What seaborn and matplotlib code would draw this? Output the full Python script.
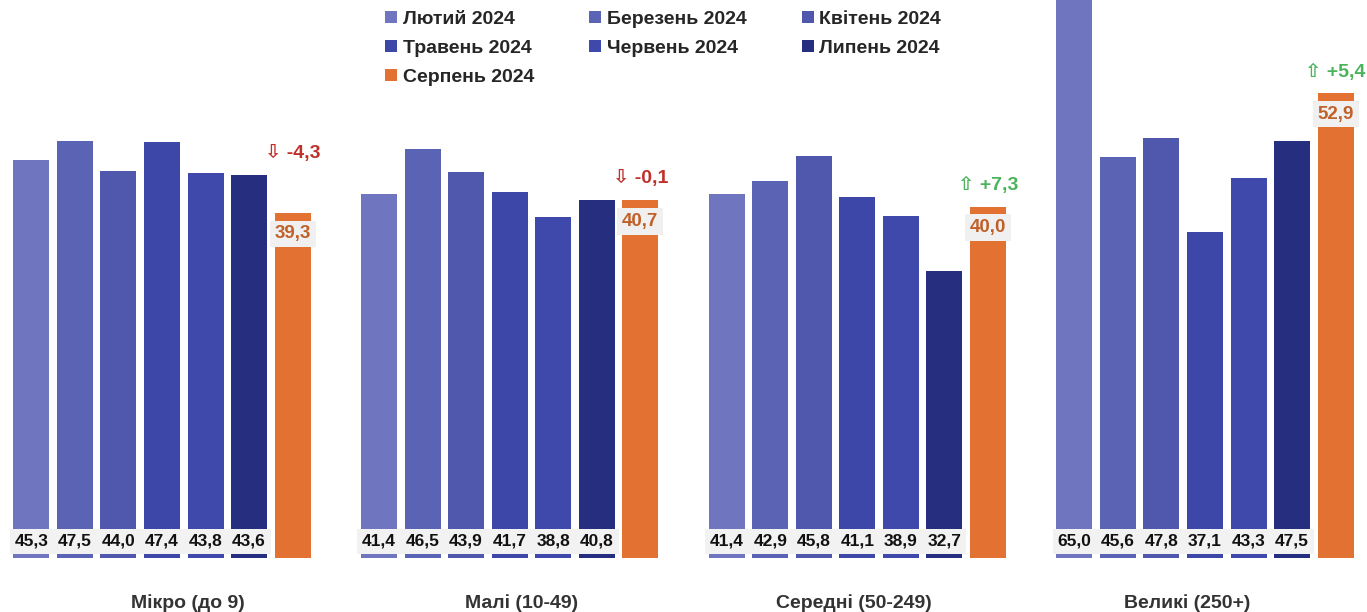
import pandas as pd
import matplotlib.pyplot as plt
import seaborn as sns

categories = ['Мікро (до 9)', 'Малі (10-49)', 'Середні (50-249)', 'Великі (250+)']
months = ['Лютий 2024', 'Березень 2024', 'Квітень 2024', 'Травень 2024',
          'Червень 2024', 'Липень 2024', 'Серпень 2024']
feb = [45.3, 41.4, 41.4, 65.0]
mar = [47.5, 46.5, 42.9, 45.6]
apr = [44.0, 43.9, 45.8, 47.8]
may = [47.4, 41.7, 41.1, 37.1]
jun = [43.8, 38.8, 38.9, 43.3]
jul = [43.6, 40.8, 32.7, 47.5]
aug = [39.3, 40.7, 40.0, 52.9]
changes = [-4.3, -0.1, 7.3, 5.4]

colors = ['#6f76bf', '#5b63b5', '#4f58ad', '#3d47a8', '#3e49ab', '#262e80', '#e27132']

sns.set_style('white')
plt.rcParams['font.family'] = ['Liberation Sans', 'DejaVu Sans']
narrow = ['Liberation Sans Narrow', 'Liberation Sans', 'DejaVu Sans']

series = [feb, mar, apr, may, jun, jul, aug]
rows = []
for m, vals in zip(months, series):
    for c, v in zip(categories, vals):
        rows.append({'cat': c, 'month': m, 'value': v})
df = pd.DataFrame(rows)

fig, ax = plt.subplots(figsize=(13.67, 6.12), dpi=100)
fig.subplots_adjust(left=0, right=1, bottom=0.088, top=1)

sns.barplot(data=df, x='cat', y='value', hue='month', hue_order=months,
            order=categories, palette=colors, saturation=1, width=0.877, gap=0.175,
            linewidth=0, ax=ax)

ax.set_xlim(-0.466, 3.466)
ax.set_ylim(0, 63.5)
ax.set_xlabel('')
ax.set_ylabel('')
ax.set_yticks([])
sns.despine(left=True, bottom=True)

# category captions sit a bit off the group centres in the original
ax.set_xticks([0.075 + i * 0.958 for i in range(len(categories))])
ax.set_xticklabels(categories)
ax.tick_params(axis='x', length=0, pad=26)
for lbl in ax.get_xticklabels():
    lbl.set_fontsize(14)
    lbl.set_fontweight('bold')
    lbl.set_color('#333333')
    lbl.set_family(narrow)

# bottom labels for Feb..Jul, top label for Aug
for i, cont in enumerate(ax.containers):
    for j, bar in enumerate(cont):
        x = bar.get_x() + bar.get_width() / 2
        v = series[i][j]
        txt = f'{v:.1f}'.replace('.', ',')
        if i < 6:
            ax.text(x, 1.9, txt, ha='center', va='center', fontsize=12.5,
                    fontweight='bold', color='#111111', family=narrow,
                    bbox=dict(boxstyle='square,pad=0.28', fc='#f2f2f2', ec='none'))
        else:
            ax.text(x, v - 2.4, txt, ha='center', va='center', fontsize=13.5,
                    fontweight='bold', color='#c0612a', family=narrow,
                    bbox=dict(boxstyle='square,pad=0.25', fc='#f0f0f0', ec='none'))
            ch = changes[j]
            top = max(v, jul[j])
            if ch < 0:
                s = f'⇩ {ch:.1f}'.replace('.', ',')
                col = '#c0302b'
            else:
                s = f'⇧ +{ch:.1f}'.replace('.', ',')
                col = '#4cb35a'
            ax.text(x, top + 2.4, s, ha='center', va='center',
                    fontsize=14, fontweight='bold', color=col,
                    family=['Liberation Sans', 'DejaVu Sans'])

handles, labels = ax.get_legend_handles_labels()
order = [0, 3, 6, 1, 4, 2, 5]
ax.legend([handles[k] for k in order], [labels[k] for k in order],
          loc='upper left', bbox_to_anchor=(385 / 1367, 0.981), ncol=3, frameon=False,
          prop={'weight': 'bold', 'size': 14}, handlelength=0.6, handleheight=0.6,
          handletextpad=0.3, columnspacing=2.85, labelspacing=0.62,
          borderpad=0, borderaxespad=0)

plt.savefig('out.png', dpi=100)
